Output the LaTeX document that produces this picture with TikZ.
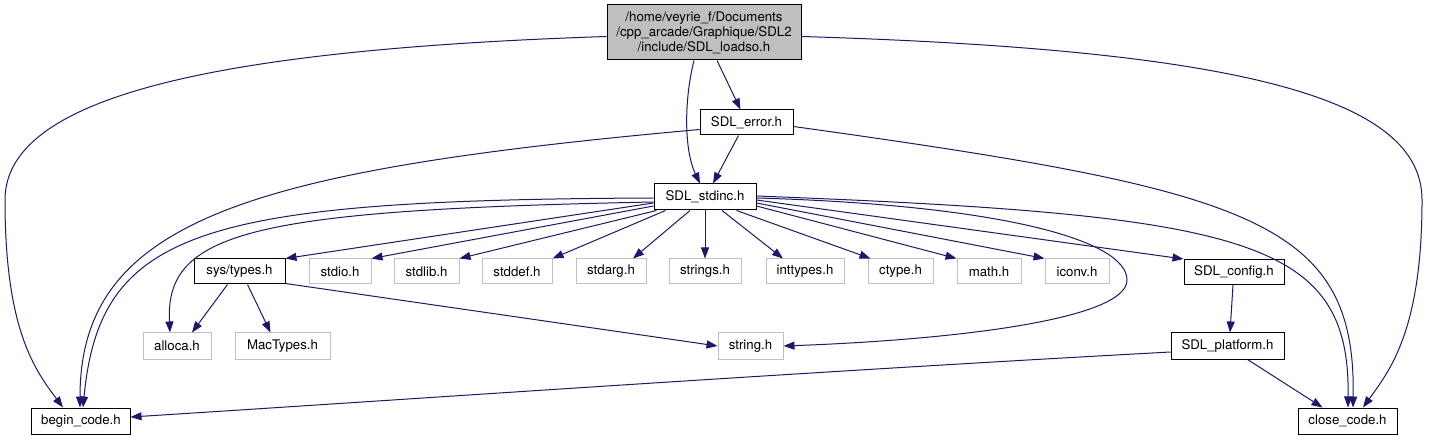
\documentclass[tikz,border=0pt]{standalone}
\usepackage{fontspec}
\setmainfont{TeX Gyre Heros}
\usetikzlibrary{arrows.meta}
\definecolor{edgeblue}{HTML}{191970}
\definecolor{hdrgrey}{HTML}{BFBFBF}
\begin{document}
\begin{tikzpicture}[x=1bp, y=-1bp,
    hdr/.style={draw=black, line width=1bp, inner sep=0pt, minimum height=25bp,
                font=\fontsize{13.3}{15}\selectfont},
    sysh/.style={hdr, draw=hdrgrey, line width=1bp},
    inc/.style={draw=edgeblue, line width=1bp, -{Triangle[length=11bp,width=8bp]}}]

    % Frame
    \path[fill=white, use as bounding box] (0,0) rectangle (1429,440);

    % Included file
    \node[hdr, fill=hdrgrey, minimum width=194bp, minimum height=55bp, align=center]
        (loadso) at (704,32.5) {/home/veyrie\_f/Documents\\/cpp\_arcade/Graphique/SDL2\\/include/SDL\_loadso.h};

    % Local headers
    \node[hdr, minimum width=93bp] (error) at (746.5,122.5) {SDL\_error.h};
    \node[hdr, minimum width=102bp, minimum height=26bp] (stdinc) at (705,197) {SDL\_stdinc.h};
    \node[hdr, minimum width=91bp] (systypes) at (239.5,271.5) {sys/types.h};
    \node[hdr, minimum width=100bp] (config) at (1234,272) {SDL\_config.h};
    \node[hdr, minimum width=113bp, minimum height=26bp] (platform) at (1227.5,346) {SDL\_platform.h};
    \node[hdr, minimum width=98bp, minimum height=26bp] (begin) at (81,421) {begin\_code.h};
    \node[hdr, minimum width=99bp, minimum height=26bp] (close) at (1347.5,421) {close\_code.h};

    % System headers
    \node[sysh, minimum width=62bp] (stdio) at (340,271.5) {stdio.h};
    \node[sysh, minimum width=65bp] (stdlib) at (426.5,271.5) {stdlib.h};
    \node[sysh, minimum width=70bp] (stddef) at (517,271.5) {stddef.h};
    \node[sysh, minimum width=70bp] (stdarg) at (611,271.5) {stdarg.h};
    \node[sysh, minimum width=72bp] (strings) at (705,271.5) {strings.h};
    \node[sysh, minimum width=78bp] (inttypes) at (805,271.5) {inttypes.h};
    \node[sysh, minimum width=65bp] (ctype) at (900.5,271.5) {ctype.h};
    \node[sysh, minimum width=64bp] (math) at (989,271.5) {math.h};
    \node[sysh, minimum width=64bp] (iconv) at (1077,271.5) {iconv.h};
    \node[sysh, minimum width=68bp, minimum height=26bp] (alloca) at (177,346) {alloca.h};
    \node[sysh, minimum width=95bp, minimum height=26bp] (mactypes) at (282.5,346) {MacTypes.h};
    \node[sysh, minimum width=65bp, minimum height=26bp] (string) at (750.5,346) {string.h};

    % Includes of SDL_loadso.h
    \draw[inc] ([yshift=-4bp]loadso.west) .. controls (200,50) and (5,100) .. (5,200)
        .. controls (5,330) and (35,370) .. ([xshift=-18bp]begin.north);
    \draw[inc] ([yshift=-4bp]loadso.east) .. controls (1250,50) and (1422,100) .. (1422,200)
        .. controls (1422,330) and (1390,370) .. ([xshift=15.5bp]close.north);
    \draw[inc] ([xshift=13bp]loadso.south) -- ([xshift=-6bp]error.north);
    \draw[inc] ([xshift=-10bp]loadso.south) .. controls (684,100) and (684,150) .. ([xshift=-5bp]stdinc.north);

    % Includes of SDL_error.h
    \draw[inc] ([xshift=-8bp]error.south) -- ([xshift=8bp]stdinc.north);
    \draw[inc] ([yshift=-7bp]error.west) .. controls (250,170) and (80,220) .. ([xshift=-1bp]begin.north);
    \draw[inc] ([yshift=-4bp]error.east) .. controls (1250,190) and (1356,220) .. ([xshift=5.5bp]close.north);

    % Includes of SDL_stdinc.h
    \draw[inc] ([yshift=-1bp]stdinc.west) .. controls (200,200) and (100,230) .. ([xshift=2bp]begin.north);
    \draw[inc] ([yshift=-5bp]stdinc.west) .. controls (250,210) and (165,232) .. ([xshift=-7bp]alloca.north);
    \draw[inc] ([yshift=-6bp]stdinc.west) -- (systypes.north east);
    \draw[inc] ([yshift=-9bp]stdinc.west) -- (stdio.north east);
    \draw[inc] ([xshift=3bp]stdinc.south west) -- (stdlib.north east);
    \draw[inc] ([xshift=12bp]stdinc.south west) -- (stddef.north east);
    \draw[inc] ([xshift=-15bp]stdinc.south) -- ([xshift=22bp]stdarg.north);
    \draw[inc] (stdinc.south) -- (strings.north);
    \draw[inc] ([xshift=17bp]stdinc.south) -- ([xshift=-22bp]inttypes.north);
    \draw[inc] ([xshift=-20bp]stdinc.south east) -- ([xshift=3bp]ctype.north west);
    \draw[inc] ([yshift=-9bp]stdinc.east) -- (math.north west);
    \draw[inc] ([yshift=-6bp]stdinc.east) -- (iconv.north west);
    \draw[inc] ([yshift=-3bp]stdinc.east) -- (config.north west);
    \draw[inc] ([yshift=-1bp]stdinc.east) .. controls (1000,205) and (1127,240) .. (1127,280)
        .. controls (1127,320) and (950,340) .. (string.east);
    \draw[inc] ([yshift=1bp]stdinc.east) .. controls (1250,215) and (1350,240) .. ([xshift=0.5bp]close.north);

    % Includes of sys/types.h
    \draw[inc] ([xshift=-12bp]systypes.south) -- ([xshift=15bp]alloca.north);
    \draw[inc] ([xshift=8bp]systypes.south) -- ([xshift=-12bp]mactypes.north);
    \draw[inc] ([yshift=1bp]systypes.south east) -- (string.west);

    % Includes of SDL_config.h and SDL_platform.h
    \draw[inc] ([xshift=-1bp]config.south) -- ([xshift=2.5bp]platform.north);
    \draw[inc] ([yshift=-6bp]platform.west) .. controls (800,372) and (400,400) .. ([yshift=4bp]begin.east);
    \draw[inc] ([xshift=20bp]platform.south) -- ([xshift=-25bp]close.north);

\end{tikzpicture}
\end{document}
